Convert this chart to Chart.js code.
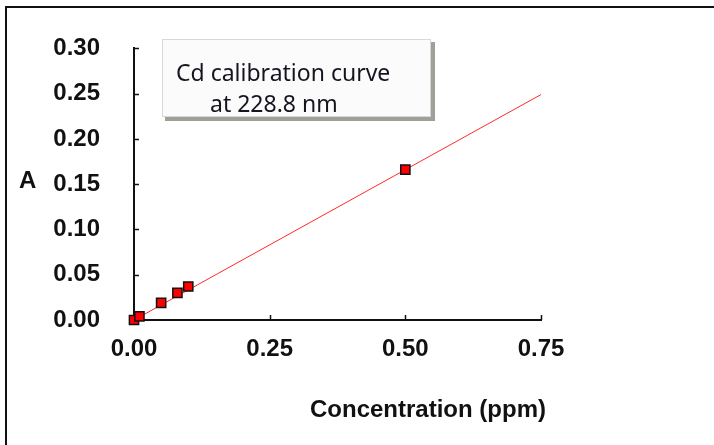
<!DOCTYPE html>
<html>
<head>
<meta charset="utf-8">
<script src="https://cdn.jsdelivr.net/npm/chart.js@4.4.0/dist/chart.umd.min.js"></script>
<style>
    body { margin: 0; background: #fff; }
    #marco { position: absolute; left: 5px; top: 6px; width: 720px; height: 450px; border-left: 2px solid #111; border-top: 2px solid #111; }
    canvas { position: absolute; left: 0; top: 0; }
</style>
</head>
<body>
<div id="marco"></div>
<canvas id="chartCalibracion" width="714" height="445"></canvas>
<script>
const concentraciones = [0, 0.01, 0.05, 0.08, 0.10, 0.50];
const absorbancias = [0, 0.004, 0.019, 0.030, 0.037, 0.166];
const rectaX = [0, 0.75];
const rectaY = [0, 0.249];
const ticksX = [0, 0.25, 0.50, 0.75];
const ticksY = [0, 0.05, 0.10, 0.15, 0.20, 0.25, 0.30];
const tituloX = 'Concentration (ppm)';
const tituloY = 'A';
const leyenda = ['Cd calibration curve', 'at 228.8 nm'];

const fuenteEje = 'bold 24px "Liberation Sans", Arial, sans-serif';

const decoracion = {
    id: 'decoracion',
    beforeDatasetsDraw(chart) {
        const { ctx, scales: { x, y } } = chart;
        ctx.save();
        ctx.strokeStyle = '#111';
        ctx.lineWidth = 1.5;
        ctx.beginPath();
        ticksX.forEach(v => {
            const px = Math.round(x.getPixelForValue(v)) + 0.5;
            ctx.moveTo(px, y.bottom);
            ctx.lineTo(px, y.bottom - 5);
        });
        ticksY.forEach(v => {
            const py = Math.round(y.getPixelForValue(v)) + 0.5;
            ctx.moveTo(x.left, py);
            ctx.lineTo(x.left + 5, py);
        });
        ctx.stroke();

        // cuadro de texto
        ctx.fillStyle = '#a0a098';
        ctx.fillRect(165, 42, 270, 79);
        ctx.fillStyle = '#fbfbfb';
        ctx.fillRect(162, 39, 269, 78);
        ctx.strokeStyle = '#d8d8d4';
        ctx.lineWidth = 1;
        ctx.strokeRect(162.5, 39.5, 268, 77);

        ctx.fillStyle = '#15151f';
        ctx.font = '23px "Noto Sans", sans-serif';
        ctx.textAlign = 'left';
        ctx.textBaseline = 'alphabetic';
        ctx.fillText(leyenda[0], 176, 81);
        ctx.fillText(leyenda[1], 210, 112);

        // titulos de ejes
        ctx.fillStyle = '#111';
        ctx.font = fuenteEje;
        ctx.fillText(tituloY, 19, 188);
        ctx.fillText(tituloX, 310, 417);
        ctx.restore();
    }
};

new Chart(document.getElementById('chartCalibracion'), {
    type: 'scatter',
    data: {
        datasets: [
            {
                label: 'Cd',
                data: concentraciones.map((c, i) => ({ x: c, y: absorbancias[i] })),
                pointStyle: 'rect',
                pointRadius: 6.5,
                backgroundColor: '#ff0000',
                borderColor: '#111',
                borderWidth: 1.5,
                clip: false
            },
            {
                label: 'Recta',
                data: rectaX.map((c, i) => ({ x: c, y: rectaY[i] })),
                showLine: true,
                pointRadius: 0,
                borderColor: '#ff2a2a',
                borderWidth: 1,
                clip: false
            }
        ]
    },
    options: {
        responsive: false,
        animation: false,
        layout: { padding: { left: 0, top: 44, right: 173, bottom: 0 } },
        plugins: { legend: { display: false }, tooltip: { enabled: false } },
        scales: {
            x: {
                type: 'linear',
                min: 0,
                max: 0.75,
                afterFit: s => { s.height = 125; },
                afterBuildTicks: s => { s.ticks = ticksX.map(v => ({ value: v })); },
                grid: { drawOnChartArea: false, drawTicks: false },
                border: { color: '#111', width: 2 },
                ticks: {
                    padding: 15,
                    color: '#111',
                    font: { family: '"Liberation Sans", Arial, sans-serif', size: 24, weight: 'bold' },
                    maxRotation: 0,
                    callback: v => v.toFixed(2)
                }
            },
            y: {
                min: 0,
                max: 0.30,
                afterFit: s => { s.width = 134; },
                afterBuildTicks: s => { s.ticks = ticksY.map(v => ({ value: v })); },
                grid: { drawOnChartArea: false, drawTicks: false },
                border: { color: '#111', width: 2 },
                ticks: {
                    padding: 34,
                    color: '#111',
                    font: { family: '"Liberation Sans", Arial, sans-serif', size: 24, weight: 'bold' },
                    callback: v => v.toFixed(2)
                }
            }
        }
    },
    plugins: [decoracion]
});
</script>
</body>
</html>
